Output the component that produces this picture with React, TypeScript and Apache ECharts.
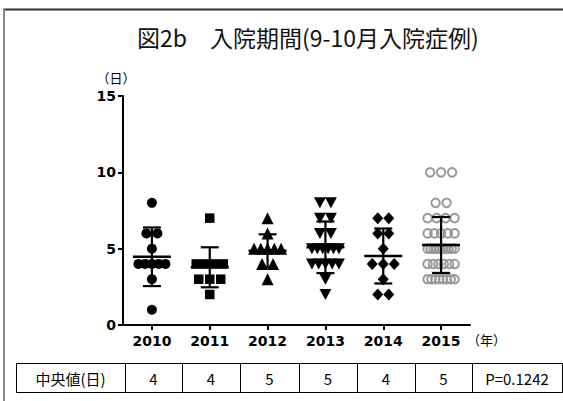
import React, { useEffect, useRef } from "react";
import * as echarts from "echarts";

const titleText = "図2b　入院期間(9-10月入院症例)";
const years = ["2010", "2011", "2012", "2013", "2014", "2015"];
const yTicks = [0, 5, 10, 15];
const yName = "（日）";
const xName = "（年）";

// inpatient days per case
const d2010 = [8, 6, 6, 5, 4, 4, 4, 4, 4, 3, 1];
const d2011 = [7, 4, 4, 4, 4, 3, 3, 3, 2];
const d2012 = [7, 6, 5, 5, 5, 5, 5, 4, 4, 3];
const d2013 = [8, 8, 7, 7, 6, 6, 5, 5, 5, 5, 5, 5, 4, 4, 4, 4, 4, 3, 2];
const d2014 = [7, 7, 6, 6, 5, 4, 4, 4, 3, 2, 2];
const d2015 = [10, 10, 10, 8, 8, 7, 7, 7, 7, 6, 6, 6, 6, 6, 5, 5, 5, 5, 5, 5, 5, 5, 5, 5, 4, 4, 4, 4, 4, 4, 3, 3, 3, 3, 3, 3, 3, 3];
const groups = [d2010, d2011, d2012, d2013, d2014, d2015];

// mean and SD bars
const means = [4.47, 3.78, 4.87, 5.09, 4.52, 5.24];
const sds = [1.92, 1.31, 1.07, 1.69, 1.8, 1.83];

// table
const tableHeader = "中央値(日)";
const medians = ["4", "4", "5", "5", "4", "5"];
const pText = "P=0.1242";

const FONT = "'Noto Sans CJK JP', 'Noto Sans', sans-serif";
const NUMFONT = "'DejaVu Sans', sans-serif";

function swarm(vals: number[], idx: number) {
  const counts: Record<string, number> = {};
  vals.forEach((v) => (counts[v] = (counts[v] || 0) + 1));
  const used: Record<string, number> = {};
  const maxSpan = 27;
  return vals.map((v) => {
    const n = counts[v];
    const i = used[v] || 0;
    used[v] = i + 1;
    const sp = n > 1 ? Math.min(11, maxSpan / (n - 1)) : 0;
    const dx = (i - (n - 1) / 2) * sp;
    return { value: [idx, v], symbolOffset: [dx, 0] };
  });
}

const symbols: any[] = [
  { symbol: "circle", symbolSize: 10, color: "#000" },
  { symbol: "rect", symbolSize: 9.5, color: "#000" },
  { symbol: "triangle", symbolSize: 12, color: "#000" },
  { symbol: "path://M0,0 L10,0 L5,9 Z", symbolSize: [12, 11], color: "#000" },
  { symbol: "diamond", symbolSize: [11, 12], color: "#000" },
  { symbol: "circle", symbolSize: 8.5, color: "#999", empty: true },
];

export default function App() {
  const ref = useRef<HTMLDivElement>(null);
  useEffect(() => {
    const chart = echarts.init(ref.current!, null, { renderer: "svg" });

    const left = 123, right = 470, top = 96, bottom = 325;
    const tTop = 363, tBot = 392;
    const colEdges = [16, 125, 182, 240, 299, 357, 415, 472, 562];
    const cells = [tableHeader, ...medians, pText];
    const tableEls: any[] = [];
    for (let i = 0; i < cells.length; i++) {
      tableEls.push({
        type: "rect",
        shape: { x: colEdges[i] + 0.5, y: tTop + 0.5, width: colEdges[i + 1] - colEdges[i], height: tBot - tTop },
        style: { fill: "#fff", stroke: "#000", lineWidth: 1 },
      });
      tableEls.push({
        type: "text",
        x: (colEdges[i] + colEdges[i + 1]) / 2,
        y: (tTop + tBot) / 2 + 1,
        style: { text: cells[i], fill: "#000", font: `15px ${FONT}`, align: "center", verticalAlign: "middle" },
      });
    }

    const scatterSeries = groups.map((g, i) => {
      const s = symbols[i];
      return {
        type: "scatter",
        xAxisIndex: 0,
        yAxisIndex: 0,
        symbol: s.symbol,
        symbolSize: s.symbolSize,
        itemStyle: s.empty
          ? { color: "none", borderColor: s.color, borderWidth: 2, opacity: 1 }
          : { color: s.color, opacity: 1 },
        data: swarm(g, i),
        z: 2,
      };
    });

    chart.setOption({
      animation: false,
      title: {
        text: titleText,
        left: 132,
        top: 20,
        textStyle: { fontFamily: FONT, fontSize: 23, fontWeight: "normal", color: "#111" },
      },
      grid: { left, top, width: right - left, height: bottom - top, containLabel: false },
      xAxis: {
        type: "category",
        data: years,
        boundaryGap: true,
        axisLine: { show: true, lineStyle: { color: "#000", width: 2 } },
        axisTick: { show: true, alignWithLabel: true, length: 5, lineStyle: { color: "#000", width: 2 } },
        axisLabel: { color: "#000", fontSize: 14, fontWeight: "bold", fontFamily: NUMFONT, margin: 9 },
        name: xName,
        nameLocation: "end",
        nameGap: -3,
        nameTextStyle: { color: "#000", fontSize: 13, fontFamily: FONT, verticalAlign: "top", align: "left", padding: [8, 0, 0, 0] },
        splitLine: { show: false },
      },
      yAxis: {
        type: "value",
        min: 0,
        max: 15,
        interval: 5,
        axisLine: { show: true, lineStyle: { color: "#000", width: 2 } },
        axisTick: { show: true, length: 5, lineStyle: { color: "#000", width: 2 } },
        axisLabel: {
          color: "#000",
          fontSize: 14,
          fontWeight: "bold",
          fontFamily: NUMFONT,
          margin: 7,
          formatter: (v: number) => (yTicks.includes(v) ? String(v) : ""),
        },
        splitLine: { show: false },
      },
      graphic: [
        { type: "line", shape: { x1: 3, y1: 9.5, x2: 563, y2: 9.5 }, style: { stroke: "#333", lineWidth: 2 } },
        { type: "line", shape: { x1: 4, y1: 9, x2: 4, y2: 401 }, style: { stroke: "#888", lineWidth: 2 } },
        {
          type: "text",
          x: 116,
          y: 77,
          style: { text: yName, fill: "#000", font: `13px ${FONT}`, align: "center", verticalAlign: "middle" },
        },
        ...tableEls,
      ],
      series: [
        ...scatterSeries,
        {
          type: "custom",
          z: 5,
          data: means.map((m, i) => [i, m, sds[i]]),
          renderItem: (params: any, api: any) => {
            const i = api.value(0);
            const m = api.value(1);
            const sd = api.value(2);
            const c = api.coord([i, m]);
            const t = api.coord([i, m + sd]);
            const b = api.coord([i, m - sd]);
            const st = { stroke: "#000", lineWidth: 2.2 };
            return {
              type: "group",
              children: [
                { type: "line", shape: { x1: c[0] - 19, y1: c[1], x2: c[0] + 19, y2: c[1] }, style: { stroke: "#000", lineWidth: 2.5 } },
                { type: "line", shape: { x1: c[0], y1: t[1], x2: c[0], y2: b[1] }, style: st },
                { type: "line", shape: { x1: c[0] - 9, y1: t[1], x2: c[0] + 9, y2: t[1] }, style: st },
                { type: "line", shape: { x1: c[0] - 9, y1: b[1], x2: c[0] + 9, y2: b[1] }, style: st },
              ],
            };
          },
        },
      ],
    });
    return () => chart.dispose();
  }, []);
  return (
    <div
      ref={ref}
      style={{ position: "absolute", left: 0, top: 0, width: 563, height: 401, background: "#fff" }}
    />
  );
}
